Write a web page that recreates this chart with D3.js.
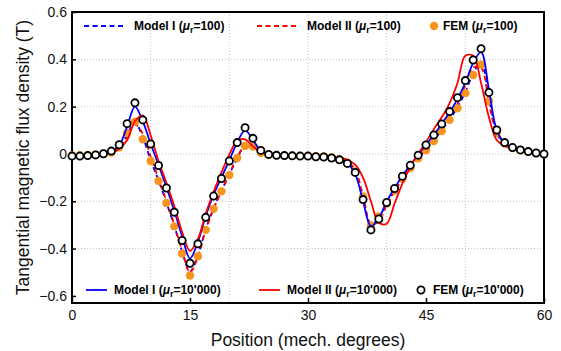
<!DOCTYPE html>
<html>
<head>
<meta charset="utf-8">
<script src="https://cdn.jsdelivr.net/npm/d3@7"></script>
<style>
  body { margin: 0; background: #fff; }
  text { font-family: "Liberation Sans", Arial, sans-serif; }
</style>
</head>
<body>
<div id="chart"></div>
<script>
// position in mechanical degrees (FEM points and model samples)
var positions = [0,1,2,3,4,5,6,7,8,9,10,11,12,13,14,15,16,17,18,19,20,
  21,22,23,24,25,26,27,28,29,30,31,32,33,34,35,36,37,38,39,40,
  41,42,43,44,45,46,47,48,49,50,51,52,53,54,55,56,57,58,59,60];

var modelI_100 = [-0.005,-0.005,-0.004,-0.002,0.000,0.006,0.026,0.082,0.133,0.070,-0.026,
  -0.112,-0.205,-0.304,-0.412,-0.497,-0.428,-0.318,-0.230,-0.156,-0.087,
  -0.018,0.035,0.032,0.006,-0.003,-0.005,-0.006,-0.007,-0.008,-0.008,
  -0.009,-0.011,-0.015,-0.022,-0.037,-0.080,-0.190,-0.300,-0.268,-0.208,
  -0.155,-0.105,-0.060,-0.019,0.020,0.058,0.100,0.146,0.197,0.262,
  0.340,0.388,0.240,0.094,0.044,0.025,0.015,0.009,0.004,0.000];

var modelII_100 = [-0.005,-0.005,-0.004,-0.002,0.000,0.005,0.022,0.072,0.125,0.085,-0.012,
  -0.104,-0.198,-0.298,-0.408,-0.500,-0.435,-0.322,-0.232,-0.156,-0.085,
  -0.014,0.034,0.030,0.006,-0.003,-0.005,-0.006,-0.007,-0.008,-0.008,
  -0.009,-0.010,-0.014,-0.020,-0.033,-0.068,-0.175,-0.295,-0.285,-0.215,
  -0.158,-0.105,-0.058,-0.016,0.024,0.063,0.106,0.155,0.212,0.290,
  0.365,0.365,0.215,0.085,0.042,0.024,0.015,0.009,0.004,0.000];

var fem_100 = [-0.006,-0.006,-0.005,-0.003,0.000,0.006,0.028,0.088,0.136,0.062,-0.030,
  -0.114,-0.207,-0.306,-0.421,-0.514,-0.432,-0.321,-0.232,-0.158,-0.089,
  -0.017,0.034,0.031,0.005,-0.003,-0.005,-0.006,-0.007,-0.008,-0.008,
  -0.010,-0.011,-0.015,-0.022,-0.036,-0.074,-0.180,-0.302,-0.264,-0.210,
  -0.155,-0.105,-0.060,-0.018,0.016,0.055,0.097,0.144,0.193,0.257,
  0.334,0.378,0.224,0.090,0.044,0.025,0.016,0.010,0.004,0.000];

var modelI_10k = [-0.006,-0.006,-0.005,-0.003,0.001,0.010,0.036,0.115,0.200,0.138,0.043,
  -0.046,-0.139,-0.240,-0.348,-0.442,-0.372,-0.262,-0.172,-0.099,-0.027,
  0.048,0.100,0.060,0.013,-0.002,-0.005,-0.006,-0.007,-0.008,-0.008,
  -0.010,-0.012,-0.016,-0.024,-0.040,-0.085,-0.200,-0.306,-0.272,-0.202,
  -0.144,-0.093,-0.047,-0.004,0.039,0.081,0.127,0.176,0.232,0.300,
  0.385,0.430,0.272,0.100,0.046,0.026,0.016,0.010,0.004,0.000];

var modelII_10k = [-0.006,-0.006,-0.005,-0.003,0.000,0.006,0.022,0.058,0.138,0.163,0.078,
  -0.030,-0.122,-0.220,-0.330,-0.410,-0.360,-0.252,-0.160,-0.078,-0.002,
  0.055,0.062,0.032,0.008,-0.002,-0.005,-0.006,-0.007,-0.008,-0.008,
  -0.009,-0.010,-0.012,-0.016,-0.025,-0.045,-0.100,-0.200,-0.290,-0.295,
  -0.210,-0.125,-0.055,0.000,0.050,0.105,0.155,0.215,0.300,0.415,
  0.415,0.300,0.155,0.058,0.034,0.022,0.014,0.009,0.004,0.000];

var fem_10k = [-0.009,-0.009,-0.007,-0.004,0.001,0.012,0.039,0.128,0.216,0.144,0.042,
  -0.049,-0.144,-0.246,-0.366,-0.462,-0.380,-0.268,-0.178,-0.104,-0.030,
  0.048,0.111,0.066,0.015,-0.002,-0.006,-0.007,-0.008,-0.009,-0.009,
  -0.012,-0.013,-0.017,-0.025,-0.040,-0.078,-0.193,-0.321,-0.275,-0.205,
  -0.146,-0.094,-0.048,-0.005,0.038,0.080,0.127,0.179,0.238,0.310,
  0.397,0.445,0.260,0.101,0.048,0.027,0.017,0.010,0.004,0.000];

var xTicks = [0, 15, 30, 45, 60];
var xGrid = [10, 20, 30, 40, 50];
var yTicks = [-0.6, -0.4, -0.2, 0, 0.2, 0.4, 0.6];

var width = 561, height = 351;
var margin = {top: 12, right: 17, bottom: 48, left: 72};

var blue = "#0000ff", red = "#ff0000", orange = "#f7941d";

var svg = d3.select("#chart")
  .append("svg")
  .attr("width", width)
  .attr("height", height);

var x = d3.scaleLinear().domain([0, 60]).range([margin.left, width - margin.right]);
var y = d3.scaleLinear().domain([-0.63, 0.6]).range([height - margin.bottom, margin.top]);

// dotted grid
svg.append("g").selectAll("line").data(xGrid).join("line")
  .attr("x1", function(d) { return x(d); }).attr("x2", function(d) { return x(d); })
  .attr("y1", y(0.6)).attr("y2", y(-0.63))
  .attr("stroke", "#c4c4c4").attr("stroke-width", 1).attr("stroke-dasharray", "1,2");
svg.append("g").selectAll("line").data(yTicks.filter(function(d) { return d > -0.6 && d < 0.6; })).join("line")
  .attr("x1", x(0)).attr("x2", x(60))
  .attr("y1", function(d) { return y(d); }).attr("y2", function(d) { return y(d); })
  .attr("stroke", "#c4c4c4").attr("stroke-width", 1).attr("stroke-dasharray", "1,2");

// axes
var fmtY = function(d) { return d === 0 ? "0" : d3.format(".1f")(d).replace("-", "\u2212"); };
var yAxis = svg.append("g")
  .attr("transform", "translate(" + margin.left + ",0)")
  .call(d3.axisLeft(y).tickValues(yTicks).tickFormat(fmtY).tickSize(-4).tickPadding(5));
var xAxis = svg.append("g")
  .attr("transform", "translate(0," + (height - margin.bottom) + ")")
  .call(d3.axisBottom(x).tickValues(xTicks).tickSize(-5).tickPadding(7));
[xAxis, yAxis].forEach(function(a) {
  a.select(".domain").remove();
  a.selectAll(".tick line").attr("stroke", "#000").attr("stroke-width", 1.5);
  a.selectAll(".tick text").attr("font-size", 14).attr("fill", "#111")
    .attr("font-family", "Liberation Sans, Arial, sans-serif");
});

// frame
svg.append("rect")
  .attr("x", x(0)).attr("y", y(0.6))
  .attr("width", x(60) - x(0)).attr("height", y(-0.63) - y(0.6))
  .attr("fill", "none").attr("stroke", "#000").attr("stroke-width", 2);

// data
var plot = svg.append("g");
var line = d3.line()
  .x(function(d, i) { return x(positions[i]); })
  .y(function(d) { return y(d); })
  .curve(d3.curveCatmullRom.alpha(0.5));

plot.append("path").datum(modelI_100).attr("d", line)
  .attr("fill", "none").attr("stroke", blue).attr("stroke-width", 1.8).attr("stroke-dasharray", "5,3.5");
plot.append("path").datum(modelII_100).attr("d", line)
  .attr("fill", "none").attr("stroke", red).attr("stroke-width", 1.8).attr("stroke-dasharray", "5,3.5");
plot.append("g").selectAll("circle").data(fem_100).join("circle")
  .attr("cx", function(d, i) { return x(positions[i]); })
  .attr("cy", function(d) { return y(d); })
  .attr("r", 4.2).attr("fill", orange);
plot.append("path").datum(modelI_10k).attr("d", line)
  .attr("fill", "none").attr("stroke", blue).attr("stroke-width", 1.8);
plot.append("path").datum(modelII_10k).attr("d", line)
  .attr("fill", "none").attr("stroke", red).attr("stroke-width", 1.8);
plot.append("g").selectAll("circle").data(fem_10k).join("circle")
  .attr("cx", function(d, i) { return x(positions[i]); })
  .attr("cy", function(d) { return y(d); })
  .attr("r", 3.6).attr("fill", "#fff").attr("stroke", "#000").attr("stroke-width", 1.8);

// legends
function legendText(tx, ty, name, mu) {
  var t = svg.append("text").attr("x", tx).attr("y", ty)
    .attr("font-size", 12).attr("font-weight", "bold").attr("fill", "#000");
  t.append("tspan").text(name + " (");
  t.append("tspan").attr("font-style", "italic").text("\u03bc");
  t.append("tspan").attr("font-size", 9).attr("dy", 3).text("r");
  t.append("tspan").attr("dy", -3).text("=" + mu + ")");
}
function legendLine(x1, x2, ly, color, dash) {
  svg.append("line").attr("x1", x1).attr("x2", x2).attr("y1", ly).attr("y2", ly)
    .attr("stroke", color).attr("stroke-width", 1.8).attr("stroke-dasharray", dash);
}

legendLine(84, 124, 26, blue, "5,3.5");
legendText(134, 30, "Model I", "100");
legendLine(257, 297, 26, red, "5,3.5");
legendText(307, 30, "Model II", "100");
svg.append("circle").attr("cx", 434).attr("cy", 26).attr("r", 4.2).attr("fill", orange);
legendText(443, 30, "FEM", "100");

legendLine(86, 107, 290, blue, null);
legendText(114, 294, "Model I", "10'000");
legendLine(259, 280, 290, red, null);
legendText(287, 294, "Model II", "10'000");
svg.append("circle").attr("cx", 421).attr("cy", 290).attr("r", 3.6)
  .attr("fill", "#fff").attr("stroke", "#000").attr("stroke-width", 1.8);
legendText(433, 294, "FEM", "10'000");

// axis titles
svg.append("text")
  .attr("x", (x(0) + x(60)) / 2).attr("y", 346)
  .attr("text-anchor", "middle").attr("font-size", 17.5).attr("fill", "#111")
  .text("Position (mech. degrees)");
svg.append("text")
  .attr("transform", "translate(29," + ((y(0.6) + y(-0.63)) / 2) + ") rotate(-90)")
  .attr("text-anchor", "middle").attr("font-size", 17.5).attr("fill", "#111")
  .text("Tangential magnetic flux density (T)");
</script>
</body>
</html>
